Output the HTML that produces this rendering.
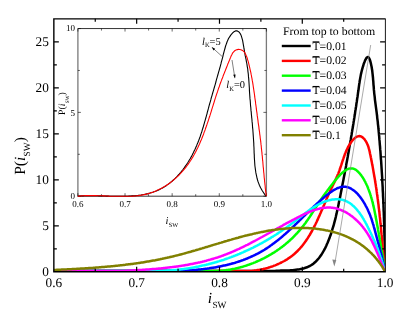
<!DOCTYPE html>
<html><head><meta charset="utf-8"><title>chart</title><style>html,body{margin:0;padding:0;background:#fff}svg{display:block;will-change:transform}text{font-family:"Liberation Serif",serif;text-rendering:geometricPrecision}</style></head><body>
<svg width="415" height="319" viewBox="0 0 415 319">
<rect width="415" height="319" fill="#fff"/>
<defs><clipPath id="cp"><rect x="53.85" y="18.85" width="331.25" height="252.95"/></clipPath></defs>
<g fill="none" stroke-width="2.5" stroke-linejoin="round" stroke-linecap="butt" clip-path="url(#cp)">
<path d="M51.9,271.1 L272.0,271.1 L273.4,271.0 L274.8,270.9 L276.3,270.8 L277.8,270.7 L279.4,270.7 L281.0,270.6 L282.6,270.6 L284.2,270.5 L285.9,270.5 L287.6,270.4 L289.2,270.4 L290.9,270.3 L292.6,270.2 L294.3,270.0 L296.0,269.8 L297.6,269.6 L299.3,269.4 L300.9,269.0 L302.5,268.7 L304.0,268.3 L305.5,267.8 L307.0,267.3 L308.4,266.6 L309.8,266.0 L311.1,265.2 L312.4,264.4 L313.6,263.5 L314.7,262.5 L315.9,261.5 L316.9,260.4 L318.0,259.2 L319.0,258.0 L319.9,256.8 L320.8,255.5 L321.7,254.2 L322.5,252.9 L323.3,251.5 L324.1,250.1 L324.9,248.7 L325.6,247.2 L326.3,245.7 L326.9,244.3 L327.6,242.8 L328.2,241.3 L328.8,239.8 L329.4,238.3 L329.9,236.8 L330.5,235.3 L331.0,233.8 L331.5,232.3 L332.0,230.8 L332.4,229.2 L332.9,227.7 L333.4,226.2 L333.8,224.7 L334.2,223.1 L334.6,221.6 L335.0,220.1 L335.4,218.6 L335.8,217.0 L336.1,215.5 L336.5,213.9 L336.8,212.4 L337.2,210.9 L337.5,209.3 L337.8,207.8 L338.2,206.2 L338.5,204.7 L338.8,203.1 L339.1,201.6 L339.4,200.0 L339.8,198.5 L340.1,196.9 L340.4,195.4 L340.7,193.8 L341.0,192.3 L341.3,190.7 L341.6,189.2 L341.9,187.6 L342.2,186.1 L342.5,184.5 L342.8,183.0 L343.1,181.4 L343.4,179.9 L343.7,178.3 L344.0,176.8 L344.3,175.2 L344.6,173.7 L344.9,172.1 L345.2,170.6 L345.5,169.0 L345.8,167.4 L346.1,165.9 L346.3,164.3 L346.6,162.8 L346.9,161.2 L347.2,159.7 L347.5,158.1 L347.8,156.5 L348.0,155.0 L348.3,153.4 L348.6,151.9 L348.9,150.3 L349.1,148.7 L349.4,147.2 L349.7,145.6 L350.0,144.0 L350.2,142.5 L350.5,140.9 L350.8,139.4 L351.0,137.8 L351.3,136.2 L351.6,134.7 L351.8,133.1 L352.1,131.5 L352.3,130.0 L352.6,128.4 L352.9,126.8 L353.1,125.3 L353.4,123.7 L353.6,122.1 L353.9,120.5 L354.1,119.0 L354.4,117.4 L354.6,115.8 L354.9,114.3 L355.1,112.7 L355.3,111.1 L355.6,109.5 L355.8,108.0 L356.1,106.4 L356.3,104.8 L356.5,103.2 L356.8,101.7 L357.0,100.1 L357.2,98.5 L357.5,96.9 L357.7,95.3 L357.9,93.8 L358.1,92.2 L358.4,90.6 L358.6,89.0 L358.8,87.4 L359.0,85.8 L359.2,84.3 L359.5,82.7 L359.7,81.0 L360.0,79.4 L360.3,77.8 L360.6,76.1 L360.9,74.4 L361.3,72.7 L361.7,71.0 L362.2,69.2 L362.7,67.4 L363.3,65.5 L363.8,63.7 L364.5,62.0 L365.1,60.4 L365.8,59.1 L366.4,58.0 L367.1,57.3 L367.7,57.0 L368.3,57.2 L368.9,57.7 L369.4,58.7 L369.9,60.0 L370.4,61.5 L370.8,63.1 L371.2,64.9 L371.6,66.8 L371.9,68.7 L372.2,70.5 L372.4,72.4 L372.6,74.2 L372.8,76.0 L373.0,77.8 L373.1,79.6 L373.3,81.4 L373.4,83.1 L373.5,84.8 L373.7,86.5 L373.8,88.2 L373.9,89.9 L374.1,91.5 L374.2,93.1 L374.4,94.7 L374.6,96.2 L374.8,97.8 L374.9,99.3 L375.1,100.8 L375.3,102.4 L375.5,103.9 L375.7,105.4 L375.9,106.9 L376.1,108.4 L376.3,109.9 L376.5,111.4 L376.7,112.9 L376.9,114.5 L377.1,116.0 L377.2,117.6 L377.4,119.1 L377.6,120.7 L377.8,122.2 L377.9,123.8 L378.1,125.4 L378.3,127.0 L378.4,128.5 L378.6,130.1 L378.7,131.7 L378.9,133.3 L379.0,134.9 L379.2,136.5 L379.3,138.1 L379.4,139.7 L379.6,141.3 L379.7,142.9 L379.8,144.5 L380.0,146.1 L380.1,147.7 L380.2,149.4 L380.4,151.0 L380.5,152.6 L380.6,154.2 L380.7,155.8 L380.8,157.4 L380.9,159.0 L381.1,160.6 L381.2,162.2 L381.3,163.8 L381.4,165.4 L381.5,167.0 L381.6,168.6 L381.7,170.2 L381.8,171.8 L381.9,173.4 L382.0,175.0 L382.1,176.5 L382.2,178.1 L382.2,179.7 L382.3,181.3 L382.4,182.9 L382.5,184.5 L382.6,186.1 L382.7,187.6 L382.7,189.2 L382.8,190.8 L382.9,192.4 L383.0,194.0 L383.0,195.5 L383.1,197.1 L383.2,198.7 L383.3,200.3 L383.3,201.9 L383.4,203.4 L383.5,205.0 L383.5,206.6 L383.6,208.2 L383.6,209.8 L383.7,211.3 L383.8,212.9 L383.8,214.5 L383.9,216.1 L383.9,217.6 L384.0,219.2 L384.0,220.8 L384.1,222.4 L384.1,224.0 L384.2,225.5 L384.2,227.1 L384.3,228.7 L384.3,230.3 L384.3,231.9 L384.4,233.4 L384.4,235.0 L384.5,236.6 L384.5,238.2 L384.5,239.8 L384.6,241.4 L384.6,243.0 L384.7,244.5 L384.7,246.1 L384.7,247.7 L384.7,249.3 L384.8,250.9 L384.8,252.5 L384.8,254.1 L384.9,255.7 L384.9,257.3 L384.9,258.9 L384.9,260.5 L385.0,262.1 L385.0,263.7 L385.0,265.3 L385.0,266.9 L385.1,268.5 L385.1,270.1 L385.1,271.7" stroke="#000"/>
<path d="M51.9,271.1 L235.0,271.1 L236.1,271.1 L237.2,271.1 L238.4,271.1 L239.5,271.1 L240.6,271.1 L241.7,271.1 L242.9,271.1 L244.0,271.1 L245.1,271.1 L246.3,271.1 L247.4,271.1 L248.5,271.1 L249.7,271.1 L250.8,271.0 L252.0,270.9 L253.1,270.7 L254.2,270.6 L255.4,270.4 L256.5,270.3 L257.6,270.1 L258.8,269.9 L259.9,269.7 L261.0,269.5 L262.1,269.2 L263.2,269.0 L264.4,268.7 L265.5,268.5 L266.6,268.2 L267.7,267.9 L268.8,267.5 L269.8,267.2 L270.9,266.8 L272.0,266.5 L273.1,266.1 L274.1,265.7 L275.2,265.3 L276.2,264.9 L277.3,264.4 L278.3,264.0 L279.3,263.5 L280.3,263.0 L281.4,262.5 L282.3,262.0 L283.3,261.5 L284.3,261.0 L285.3,260.4 L286.2,259.8 L287.2,259.3 L288.1,258.6 L289.0,258.0 L289.9,257.4 L290.8,256.7 L291.7,256.1 L292.6,255.4 L293.4,254.7 L294.3,254.0 L295.1,253.3 L295.9,252.5 L296.7,251.8 L297.5,251.0 L298.3,250.2 L299.0,249.4 L299.8,248.6 L300.5,247.8 L301.3,246.9 L302.0,246.1 L302.7,245.2 L303.4,244.3 L304.0,243.4 L304.7,242.5 L305.4,241.6 L306.0,240.7 L306.6,239.8 L307.3,238.8 L307.9,237.9 L308.5,236.9 L309.1,235.9 L309.7,235.0 L310.3,234.0 L310.8,233.0 L311.4,232.0 L312.0,231.0 L312.5,230.0 L313.0,228.9 L313.6,227.9 L314.1,226.9 L314.6,225.9 L315.2,224.8 L315.7,223.8 L316.2,222.7 L316.7,221.7 L317.2,220.6 L317.7,219.6 L318.1,218.5 L318.6,217.4 L319.1,216.4 L319.6,215.3 L320.0,214.2 L320.5,213.2 L321.0,212.1 L321.4,211.0 L321.9,210.0 L322.4,208.9 L322.8,207.8 L323.3,206.8 L323.7,205.7 L324.2,204.7 L324.6,203.6 L325.1,202.5 L325.5,201.5 L326.0,200.4 L326.4,199.4 L326.9,198.4 L327.3,197.3 L327.8,196.3 L328.2,195.3 L328.7,194.3 L329.1,193.3 L329.6,192.2 L330.0,191.2 L330.5,190.3 L331.0,189.3 L331.4,188.3 L331.9,187.3 L332.4,186.4 L332.8,185.4 L333.3,184.4 L333.8,183.5 L334.3,182.5 L334.7,181.5 L335.2,180.6 L335.6,179.6 L336.1,178.6 L336.5,177.6 L337.0,176.6 L337.4,175.6 L337.9,174.6 L338.3,173.6 L338.7,172.5 L339.1,171.4 L339.5,170.4 L339.9,169.3 L340.2,168.1 L340.6,167.0 L341.0,165.9 L341.4,164.7 L341.7,163.6 L342.1,162.4 L342.5,161.2 L342.9,160.0 L343.3,158.9 L343.7,157.7 L344.1,156.5 L344.5,155.3 L344.9,154.1 L345.4,153.0 L345.9,151.8 L346.4,150.6 L346.9,149.5 L347.5,148.4 L348.0,147.2 L348.6,146.1 L349.3,145.0 L349.9,144.0 L350.6,142.9 L351.4,141.9 L352.1,140.9 L352.9,140.0 L353.7,139.1 L354.5,138.4 L355.3,137.7 L356.1,137.1 L357.0,136.7 L357.8,136.4 L358.6,136.2 L359.4,136.1 L360.3,136.2 L361.1,136.5 L361.8,136.9 L362.6,137.4 L363.3,138.1 L364.1,138.8 L364.7,139.6 L365.4,140.6 L366.0,141.5 L366.6,142.6 L367.1,143.7 L367.6,144.8 L368.1,146.0 L368.5,147.2 L368.8,148.4 L369.2,149.7 L369.5,150.9 L369.8,152.2 L370.0,153.5 L370.3,154.7 L370.6,156.0 L370.8,157.2 L371.1,158.5 L371.3,159.7 L371.5,160.9 L371.8,162.1 L372.0,163.4 L372.2,164.6 L372.5,165.7 L372.7,166.9 L372.9,168.1 L373.1,169.3 L373.3,170.4 L373.5,171.6 L373.7,172.8 L373.9,173.9 L374.1,175.0 L374.3,176.2 L374.5,177.3 L374.7,178.4 L374.9,179.6 L375.1,180.7 L375.2,181.8 L375.4,182.9 L375.6,184.0 L375.8,185.1 L375.9,186.2 L376.1,187.3 L376.3,188.4 L376.4,189.5 L376.6,190.6 L376.7,191.7 L376.9,192.8 L377.0,193.9 L377.2,194.9 L377.3,196.0 L377.5,197.1 L377.6,198.2 L377.8,199.3 L377.9,200.4 L378.0,201.5 L378.2,202.6 L378.3,203.6 L378.5,204.7 L378.6,205.8 L378.7,206.9 L378.8,208.0 L379.0,209.1 L379.1,210.2 L379.2,211.3 L379.4,212.4 L379.5,213.6 L379.6,214.7 L379.7,215.8 L379.8,216.9 L380.0,218.1 L380.1,219.2 L380.2,220.3 L380.3,221.5 L380.4,222.6 L380.5,223.8 L380.7,224.9 L380.8,226.1 L380.9,227.2 L381.0,228.4 L381.1,229.5 L381.2,230.7 L381.3,231.9 L381.4,233.0 L381.5,234.2 L381.7,235.4 L381.8,236.5 L381.9,237.7 L382.0,238.9 L382.1,240.0 L382.2,241.2 L382.3,242.4 L382.4,243.5 L382.5,244.7 L382.6,245.9 L382.7,247.0 L382.8,248.2 L382.9,249.3 L383.1,250.5 L383.2,251.6 L383.3,252.8 L383.4,253.9 L383.5,255.1 L383.6,256.2 L383.7,257.4 L383.8,258.5 L383.9,259.6 L384.0,260.7 L384.1,261.9 L384.2,263.0 L384.3,264.1 L384.4,265.2 L384.6,266.3 L384.7,267.4 L384.8,268.5 L384.9,269.6 L385.0,270.6 L385.1,271.7" stroke="#f00"/>
<path d="M51.9,271.1 L200.0,271.1 L201.0,271.1 L202.1,271.1 L203.1,271.1 L204.1,271.1 L205.2,271.1 L206.2,271.1 L207.3,271.1 L208.3,271.1 L209.3,271.1 L210.4,271.1 L211.4,271.1 L212.4,271.1 L213.5,271.1 L214.5,271.1 L215.5,271.1 L216.5,271.1 L217.6,271.1 L218.6,271.1 L219.6,271.0 L220.6,270.9 L221.7,270.8 L222.7,270.7 L223.7,270.6 L224.7,270.4 L225.7,270.3 L226.7,270.1 L227.8,270.0 L228.8,269.8 L229.8,269.7 L230.8,269.5 L231.8,269.3 L232.8,269.1 L233.8,268.9 L234.8,268.7 L235.8,268.4 L236.8,268.2 L237.7,268.0 L238.7,267.7 L239.7,267.5 L240.7,267.2 L241.7,266.9 L242.7,266.7 L243.6,266.4 L244.6,266.1 L245.6,265.8 L246.5,265.5 L247.5,265.1 L248.4,264.8 L249.4,264.5 L250.4,264.1 L251.3,263.8 L252.2,263.4 L253.2,263.1 L254.1,262.7 L255.1,262.3 L256.0,261.9 L256.9,261.5 L257.8,261.1 L258.8,260.7 L259.7,260.3 L260.6,259.9 L261.5,259.4 L262.4,259.0 L263.3,258.5 L264.2,258.1 L265.1,257.6 L266.0,257.2 L266.9,256.7 L267.8,256.2 L268.6,255.7 L269.5,255.2 L270.4,254.7 L271.2,254.2 L272.1,253.7 L272.9,253.1 L273.8,252.6 L274.6,252.1 L275.5,251.5 L276.3,251.0 L277.1,250.4 L278.0,249.8 L278.8,249.2 L279.6,248.7 L280.4,248.1 L281.2,247.5 L282.0,246.9 L282.8,246.3 L283.6,245.7 L284.4,245.0 L285.2,244.4 L285.9,243.8 L286.7,243.1 L287.5,242.5 L288.2,241.8 L289.0,241.2 L289.7,240.5 L290.4,239.8 L291.2,239.1 L291.9,238.5 L292.6,237.8 L293.3,237.1 L294.0,236.4 L294.7,235.6 L295.4,234.9 L296.1,234.2 L296.8,233.5 L297.5,232.7 L298.2,232.0 L298.8,231.2 L299.5,230.5 L300.1,229.7 L300.8,229.0 L301.4,228.2 L302.0,227.4 L302.7,226.6 L303.3,225.9 L303.9,225.1 L304.5,224.3 L305.1,223.5 L305.7,222.7 L306.3,221.8 L306.8,221.0 L307.4,220.2 L308.0,219.4 L308.6,218.5 L309.1,217.7 L309.7,216.9 L310.3,216.0 L310.8,215.2 L311.4,214.3 L311.9,213.5 L312.5,212.6 L313.0,211.8 L313.6,210.9 L314.1,210.1 L314.7,209.2 L315.3,208.3 L315.8,207.5 L316.4,206.6 L316.9,205.7 L317.5,204.9 L318.1,204.0 L318.6,203.1 L319.2,202.3 L319.8,201.4 L320.4,200.5 L320.9,199.7 L321.5,198.8 L322.1,197.9 L322.7,197.1 L323.3,196.2 L323.9,195.3 L324.5,194.5 L325.2,193.6 L325.8,192.7 L326.4,191.9 L327.1,191.0 L327.7,190.1 L328.4,189.2 L329.1,188.4 L329.7,187.5 L330.4,186.6 L331.1,185.7 L331.8,184.8 L332.5,183.9 L333.2,183.0 L333.9,182.1 L334.7,181.1 L335.4,180.2 L336.1,179.3 L336.9,178.4 L337.7,177.6 L338.4,176.7 L339.2,175.8 L340.0,175.0 L340.7,174.2 L341.5,173.5 L342.3,172.8 L343.1,172.1 L343.8,171.5 L344.6,170.9 L345.4,170.4 L346.2,169.9 L347.0,169.5 L347.8,169.1 L348.5,168.8 L349.3,168.6 L350.1,168.4 L350.8,168.4 L351.6,168.4 L352.4,168.5 L353.1,168.6 L353.9,168.9 L354.6,169.2 L355.4,169.6 L356.1,170.1 L356.8,170.6 L357.5,171.2 L358.2,171.9 L358.9,172.6 L359.6,173.3 L360.2,174.1 L360.9,174.9 L361.5,175.8 L362.2,176.7 L362.8,177.6 L363.4,178.6 L364.0,179.6 L364.5,180.6 L365.1,181.6 L365.6,182.7 L366.1,183.7 L366.6,184.8 L367.1,185.8 L367.6,186.9 L368.0,188.0 L368.4,189.1 L368.8,190.1 L369.2,191.2 L369.6,192.3 L370.0,193.4 L370.3,194.4 L370.7,195.5 L371.0,196.6 L371.3,197.6 L371.6,198.7 L371.9,199.7 L372.2,200.8 L372.5,201.8 L372.7,202.9 L373.0,203.9 L373.2,204.9 L373.4,205.9 L373.7,206.9 L373.9,207.9 L374.1,208.8 L374.3,209.8 L374.5,210.8 L374.7,211.8 L374.9,212.7 L375.1,213.7 L375.3,214.7 L375.5,215.6 L375.6,216.6 L375.8,217.6 L376.0,218.6 L376.2,219.5 L376.4,220.5 L376.6,221.5 L376.8,222.5 L376.9,223.5 L377.1,224.4 L377.3,225.4 L377.5,226.4 L377.7,227.4 L377.9,228.4 L378.0,229.4 L378.2,230.4 L378.4,231.4 L378.6,232.4 L378.8,233.4 L378.9,234.4 L379.1,235.4 L379.3,236.4 L379.5,237.4 L379.7,238.4 L379.8,239.4 L380.0,240.4 L380.2,241.4 L380.4,242.4 L380.5,243.4 L380.7,244.4 L380.9,245.4 L381.0,246.4 L381.2,247.4 L381.4,248.5 L381.6,249.5 L381.7,250.5 L381.9,251.5 L382.1,252.5 L382.2,253.5 L382.4,254.5 L382.6,255.5 L382.7,256.5 L382.9,257.6 L383.1,258.6 L383.2,259.6 L383.4,260.6 L383.5,261.6 L383.7,262.6 L383.9,263.6 L384.0,264.6 L384.2,265.6 L384.3,266.7 L384.5,267.7 L384.6,268.7 L384.8,269.7 L384.9,270.7 L385.1,271.7" stroke="#0f0"/>
<path d="M51.9,271.1 L175.0,271.1 L176.0,271.1 L177.0,271.0 L177.9,271.0 L178.9,270.9 L179.9,270.9 L180.9,270.9 L181.8,270.8 L182.8,270.8 L183.8,270.7 L184.8,270.7 L185.8,270.6 L186.7,270.5 L187.7,270.5 L188.7,270.4 L189.7,270.3 L190.7,270.3 L191.7,270.2 L192.6,270.1 L193.6,270.0 L194.6,270.0 L195.6,269.9 L196.6,269.8 L197.5,269.7 L198.5,269.6 L199.5,269.5 L200.5,269.4 L201.5,269.3 L202.5,269.2 L203.4,269.1 L204.4,268.9 L205.4,268.8 L206.4,268.7 L207.3,268.6 L208.3,268.4 L209.3,268.3 L210.3,268.1 L211.2,268.0 L212.2,267.8 L213.2,267.7 L214.2,267.5 L215.1,267.4 L216.1,267.2 L217.1,267.0 L218.0,266.8 L219.0,266.6 L220.0,266.5 L220.9,266.3 L221.9,266.1 L222.8,265.8 L223.8,265.6 L224.8,265.4 L225.7,265.2 L226.7,265.0 L227.6,264.7 L228.6,264.5 L229.5,264.3 L230.5,264.0 L231.4,263.8 L232.3,263.5 L233.3,263.2 L234.2,263.0 L235.2,262.7 L236.1,262.4 L237.0,262.1 L238.0,261.8 L238.9,261.5 L239.8,261.2 L240.7,260.9 L241.6,260.5 L242.6,260.2 L243.5,259.9 L244.4,259.5 L245.3,259.2 L246.2,258.8 L247.1,258.5 L248.0,258.1 L248.9,257.7 L249.8,257.3 L250.7,256.9 L251.6,256.5 L252.5,256.1 L253.4,255.7 L254.2,255.3 L255.1,254.9 L256.0,254.4 L256.9,254.0 L257.7,253.6 L258.6,253.1 L259.5,252.6 L260.3,252.2 L261.2,251.7 L262.0,251.2 L262.9,250.7 L263.7,250.2 L264.5,249.7 L265.4,249.1 L266.2,248.6 L267.0,248.1 L267.9,247.5 L268.7,247.0 L269.5,246.4 L270.3,245.8 L271.1,245.3 L271.9,244.7 L272.7,244.1 L273.5,243.5 L274.3,242.9 L275.1,242.3 L275.9,241.7 L276.7,241.1 L277.5,240.5 L278.2,239.9 L279.0,239.3 L279.8,238.6 L280.6,238.0 L281.3,237.4 L282.1,236.7 L282.8,236.1 L283.6,235.4 L284.3,234.8 L285.1,234.1 L285.8,233.5 L286.5,232.8 L287.3,232.2 L288.0,231.5 L288.7,230.9 L289.4,230.2 L290.1,229.5 L290.9,228.9 L291.6,228.2 L292.3,227.5 L293.0,226.9 L293.7,226.2 L294.4,225.6 L295.0,224.9 L295.7,224.2 L296.4,223.6 L297.1,222.9 L297.8,222.2 L298.5,221.6 L299.1,220.9 L299.8,220.2 L300.5,219.6 L301.2,218.9 L301.9,218.2 L302.5,217.5 L303.2,216.9 L303.9,216.2 L304.6,215.5 L305.3,214.9 L306.0,214.2 L306.6,213.5 L307.3,212.8 L308.0,212.2 L308.7,211.5 L309.4,210.8 L310.1,210.1 L310.8,209.4 L311.5,208.8 L312.2,208.1 L313.0,207.4 L313.7,206.7 L314.4,206.0 L315.1,205.4 L315.9,204.7 L316.6,204.0 L317.4,203.3 L318.1,202.6 L318.9,201.9 L319.6,201.2 L320.4,200.5 L321.2,199.9 L322.0,199.2 L322.8,198.5 L323.6,197.8 L324.4,197.1 L325.2,196.4 L326.0,195.7 L326.9,195.0 L327.7,194.4 L328.6,193.7 L329.4,193.1 L330.3,192.4 L331.1,191.8 L332.0,191.3 L332.8,190.7 L333.7,190.2 L334.6,189.7 L335.4,189.2 L336.3,188.8 L337.1,188.3 L338.0,188.0 L338.9,187.7 L339.7,187.4 L340.6,187.1 L341.4,187.0 L342.3,186.8 L343.1,186.7 L343.9,186.7 L344.8,186.7 L345.6,186.8 L346.4,186.9 L347.2,187.1 L348.0,187.3 L348.8,187.6 L349.6,187.9 L350.4,188.3 L351.2,188.7 L351.9,189.2 L352.7,189.7 L353.4,190.2 L354.2,190.8 L354.9,191.4 L355.6,192.0 L356.4,192.7 L357.1,193.4 L357.8,194.1 L358.4,194.9 L359.1,195.7 L359.8,196.5 L360.4,197.4 L361.1,198.2 L361.7,199.1 L362.3,200.0 L362.9,200.9 L363.5,201.9 L364.1,202.8 L364.7,203.8 L365.2,204.8 L365.7,205.8 L366.3,206.8 L366.8,207.8 L367.3,208.8 L367.8,209.8 L368.2,210.8 L368.7,211.9 L369.1,212.9 L369.6,213.9 L370.0,214.9 L370.4,215.9 L370.7,216.9 L371.1,217.9 L371.5,218.9 L371.8,219.9 L372.1,220.9 L372.4,221.9 L372.7,222.8 L373.0,223.8 L373.3,224.7 L373.6,225.7 L373.8,226.6 L374.1,227.6 L374.3,228.5 L374.6,229.4 L374.9,230.4 L375.1,231.3 L375.3,232.2 L375.6,233.1 L375.8,234.0 L376.1,234.9 L376.3,235.9 L376.6,236.8 L376.8,237.7 L377.1,238.6 L377.3,239.5 L377.5,240.4 L377.8,241.2 L378.0,242.1 L378.3,243.0 L378.5,243.9 L378.8,244.8 L379.0,245.7 L379.2,246.6 L379.5,247.5 L379.7,248.4 L379.9,249.3 L380.2,250.3 L380.4,251.2 L380.6,252.1 L380.9,253.0 L381.1,253.9 L381.3,254.9 L381.6,255.8 L381.8,256.7 L382.0,257.7 L382.2,258.6 L382.5,259.6 L382.7,260.6 L382.9,261.5 L383.1,262.5 L383.4,263.5 L383.6,264.5 L383.8,265.5 L384.0,266.5 L384.2,267.5 L384.5,268.5 L384.7,269.6 L384.9,270.6 L385.1,271.7" stroke="#00f"/>
<path d="M51.9,271.1 L150.0,271.1 L151.0,271.1 L152.0,271.1 L153.1,271.1 L154.1,271.1 L155.1,271.1 L156.1,271.1 L157.2,271.0 L158.2,271.0 L159.2,271.0 L160.2,271.0 L161.2,270.9 L162.2,270.9 L163.3,270.8 L164.3,270.8 L165.3,270.7 L166.3,270.7 L167.3,270.6 L168.3,270.6 L169.3,270.5 L170.3,270.4 L171.3,270.3 L172.3,270.3 L173.3,270.2 L174.3,270.1 L175.3,270.0 L176.3,269.9 L177.3,269.8 L178.2,269.7 L179.2,269.6 L180.2,269.5 L181.2,269.3 L182.2,269.2 L183.2,269.1 L184.1,268.9 L185.1,268.8 L186.1,268.7 L187.1,268.5 L188.1,268.4 L189.0,268.2 L190.0,268.1 L191.0,267.9 L191.9,267.7 L192.9,267.6 L193.9,267.4 L194.8,267.2 L195.8,267.0 L196.7,266.8 L197.7,266.7 L198.7,266.5 L199.6,266.3 L200.6,266.1 L201.5,265.8 L202.5,265.6 L203.4,265.4 L204.4,265.2 L205.3,265.0 L206.3,264.8 L207.2,264.5 L208.2,264.3 L209.1,264.0 L210.0,263.8 L211.0,263.6 L211.9,263.3 L212.9,263.0 L213.8,262.8 L214.7,262.5 L215.7,262.3 L216.6,262.0 L217.5,261.7 L218.4,261.4 L219.4,261.1 L220.3,260.8 L221.2,260.6 L222.1,260.3 L223.1,260.0 L224.0,259.7 L224.9,259.3 L225.8,259.0 L226.7,258.7 L227.6,258.4 L228.6,258.1 L229.5,257.7 L230.4,257.4 L231.3,257.1 L232.2,256.7 L233.1,256.4 L234.0,256.0 L234.9,255.7 L235.8,255.3 L236.7,255.0 L237.6,254.6 L238.5,254.2 L239.4,253.9 L240.3,253.5 L241.2,253.1 L242.1,252.7 L243.0,252.3 L243.8,251.9 L244.7,251.5 L245.6,251.1 L246.5,250.7 L247.4,250.3 L248.3,249.9 L249.2,249.5 L250.0,249.1 L250.9,248.7 L251.8,248.2 L252.7,247.8 L253.5,247.4 L254.4,246.9 L255.3,246.5 L256.1,246.0 L257.0,245.6 L257.9,245.1 L258.8,244.7 L259.6,244.2 L260.5,243.7 L261.3,243.3 L262.2,242.8 L263.1,242.3 L263.9,241.8 L264.8,241.4 L265.6,240.9 L266.5,240.4 L267.3,239.9 L268.2,239.4 L269.0,238.9 L269.9,238.4 L270.7,237.9 L271.6,237.3 L272.4,236.8 L273.3,236.3 L274.1,235.8 L275.0,235.2 L275.8,234.7 L276.6,234.2 L277.5,233.6 L278.3,233.1 L279.1,232.5 L280.0,232.0 L280.8,231.4 L281.6,230.9 L282.5,230.3 L283.3,229.7 L284.1,229.1 L284.9,228.6 L285.8,228.0 L286.6,227.4 L287.4,226.8 L288.2,226.2 L289.1,225.6 L289.9,225.0 L290.7,224.4 L291.5,223.8 L292.3,223.2 L293.1,222.6 L293.9,222.0 L294.8,221.4 L295.6,220.7 L296.4,220.1 L297.2,219.5 L298.0,218.8 L298.8,218.2 L299.6,217.6 L300.4,216.9 L301.2,216.3 L302.0,215.7 L302.8,215.1 L303.6,214.4 L304.5,213.8 L305.3,213.2 L306.1,212.6 L306.9,212.0 L307.7,211.4 L308.5,210.8 L309.3,210.2 L310.2,209.6 L311.0,209.0 L311.8,208.5 L312.7,207.9 L313.5,207.4 L314.3,206.8 L315.2,206.3 L316.0,205.8 L316.9,205.3 L317.7,204.8 L318.6,204.4 L319.5,203.9 L320.3,203.5 L321.2,203.1 L322.1,202.7 L323.0,202.3 L323.9,201.9 L324.8,201.6 L325.7,201.3 L326.6,201.0 L327.5,200.7 L328.5,200.4 L329.4,200.2 L330.4,200.0 L331.3,199.8 L332.3,199.6 L333.2,199.5 L334.2,199.4 L335.2,199.3 L336.2,199.3 L337.2,199.2 L338.1,199.3 L339.1,199.3 L340.1,199.4 L341.0,199.5 L341.9,199.7 L342.8,199.9 L343.7,200.2 L344.6,200.5 L345.5,200.8 L346.3,201.2 L347.2,201.6 L348.0,202.1 L348.8,202.5 L349.6,203.0 L350.4,203.6 L351.1,204.1 L351.9,204.7 L352.6,205.4 L353.4,206.0 L354.1,206.7 L354.8,207.4 L355.5,208.1 L356.2,208.8 L356.8,209.6 L357.5,210.4 L358.1,211.2 L358.8,212.0 L359.4,212.8 L360.0,213.7 L360.6,214.5 L361.2,215.4 L361.8,216.3 L362.4,217.2 L362.9,218.1 L363.5,219.0 L364.0,220.0 L364.5,220.9 L365.1,221.8 L365.6,222.8 L366.1,223.7 L366.6,224.6 L367.1,225.6 L367.6,226.5 L368.0,227.5 L368.5,228.4 L369.0,229.4 L369.4,230.3 L369.9,231.2 L370.3,232.1 L370.8,233.0 L371.2,233.9 L371.6,234.8 L372.0,235.7 L372.4,236.6 L372.8,237.5 L373.2,238.4 L373.6,239.3 L374.0,240.1 L374.4,241.0 L374.8,241.9 L375.1,242.8 L375.5,243.6 L375.9,244.5 L376.2,245.4 L376.6,246.2 L376.9,247.1 L377.3,248.0 L377.6,248.8 L378.0,249.7 L378.3,250.6 L378.6,251.5 L378.9,252.4 L379.3,253.3 L379.6,254.1 L379.9,255.1 L380.2,256.0 L380.5,256.9 L380.9,257.8 L381.2,258.7 L381.5,259.7 L381.8,260.6 L382.1,261.6 L382.4,262.5 L382.7,263.5 L383.0,264.5 L383.3,265.5 L383.6,266.5 L383.9,267.5 L384.2,268.5 L384.5,269.6 L384.8,270.6 L385.1,271.7" stroke="#0ff"/>
<path d="M51.9,271.1 L120.0,271.1 L121.0,271.1 L122.1,271.0 L123.1,271.0 L124.1,270.9 L125.1,270.9 L126.2,270.8 L127.2,270.7 L128.2,270.7 L129.3,270.6 L130.3,270.6 L131.3,270.5 L132.4,270.5 L133.4,270.4 L134.5,270.3 L135.5,270.3 L136.5,270.2 L137.6,270.2 L138.6,270.1 L139.7,270.0 L140.7,270.0 L141.8,269.9 L142.8,269.8 L143.9,269.8 L144.9,269.7 L146.0,269.6 L147.0,269.5 L148.1,269.5 L149.1,269.4 L150.2,269.3 L151.2,269.2 L152.3,269.1 L153.3,269.0 L154.4,268.9 L155.4,268.9 L156.5,268.8 L157.5,268.7 L158.6,268.6 L159.7,268.5 L160.7,268.4 L161.8,268.3 L162.8,268.2 L163.9,268.0 L164.9,267.9 L166.0,267.8 L167.0,267.7 L168.1,267.6 L169.1,267.5 L170.2,267.3 L171.2,267.2 L172.3,267.1 L173.3,266.9 L174.4,266.8 L175.4,266.7 L176.5,266.5 L177.5,266.4 L178.6,266.2 L179.6,266.1 L180.7,265.9 L181.7,265.7 L182.8,265.6 L183.8,265.4 L184.8,265.2 L185.9,265.0 L186.9,264.9 L188.0,264.7 L189.0,264.5 L190.0,264.3 L191.1,264.1 L192.1,263.9 L193.1,263.7 L194.1,263.5 L195.2,263.3 L196.2,263.1 L197.2,262.9 L198.2,262.6 L199.3,262.4 L200.3,262.2 L201.3,261.9 L202.3,261.7 L203.3,261.4 L204.3,261.2 L205.3,260.9 L206.3,260.7 L207.3,260.4 L208.3,260.1 L209.3,259.9 L210.3,259.6 L211.3,259.3 L212.3,259.0 L213.3,258.7 L214.3,258.4 L215.3,258.1 L216.3,257.8 L217.3,257.5 L218.2,257.2 L219.2,256.8 L220.2,256.5 L221.1,256.2 L222.1,255.8 L223.1,255.5 L224.0,255.1 L225.0,254.7 L225.9,254.4 L226.9,254.0 L227.8,253.6 L228.8,253.3 L229.7,252.9 L230.7,252.5 L231.6,252.1 L232.6,251.7 L233.5,251.3 L234.4,250.9 L235.4,250.5 L236.3,250.0 L237.2,249.6 L238.2,249.2 L239.1,248.8 L240.0,248.3 L240.9,247.9 L241.9,247.5 L242.8,247.0 L243.7,246.6 L244.6,246.1 L245.5,245.7 L246.5,245.2 L247.4,244.8 L248.3,244.3 L249.2,243.8 L250.1,243.4 L251.0,242.9 L251.9,242.4 L252.8,241.9 L253.8,241.4 L254.7,241.0 L255.6,240.5 L256.5,240.0 L257.4,239.5 L258.3,239.0 L259.2,238.5 L260.1,238.0 L261.0,237.5 L262.0,237.0 L262.9,236.5 L263.8,236.0 L264.7,235.5 L265.6,235.0 L266.5,234.5 L267.4,234.0 L268.3,233.5 L269.3,233.0 L270.2,232.5 L271.1,232.0 L272.0,231.4 L272.9,230.9 L273.8,230.4 L274.8,229.9 L275.7,229.4 L276.6,228.9 L277.5,228.3 L278.4,227.8 L279.4,227.3 L280.3,226.8 L281.2,226.3 L282.2,225.8 L283.1,225.2 L284.0,224.7 L285.0,224.2 L285.9,223.7 L286.8,223.2 L287.8,222.7 L288.7,222.1 L289.7,221.6 L290.6,221.1 L291.6,220.6 L292.5,220.1 L293.5,219.6 L294.5,219.1 L295.4,218.6 L296.4,218.1 L297.3,217.6 L298.3,217.1 L299.3,216.6 L300.3,216.1 L301.2,215.6 L302.2,215.1 L303.2,214.7 L304.2,214.2 L305.2,213.7 L306.1,213.3 L307.1,212.9 L308.1,212.4 L309.1,212.0 L310.1,211.6 L311.1,211.2 L312.1,210.9 L313.0,210.5 L314.0,210.2 L315.0,209.9 L316.0,209.6 L317.0,209.3 L318.0,209.0 L319.0,208.8 L319.9,208.5 L320.9,208.3 L321.9,208.1 L322.9,208.0 L323.9,207.8 L324.8,207.7 L325.8,207.7 L326.8,207.6 L327.8,207.6 L328.7,207.6 L329.7,207.6 L330.7,207.6 L331.6,207.7 L332.6,207.8 L333.6,208.0 L334.5,208.1 L335.5,208.3 L336.4,208.6 L337.4,208.8 L338.3,209.1 L339.2,209.4 L340.2,209.7 L341.1,210.1 L342.0,210.5 L342.9,210.9 L343.8,211.3 L344.7,211.7 L345.6,212.2 L346.5,212.7 L347.4,213.2 L348.3,213.8 L349.1,214.3 L350.0,214.9 L350.8,215.5 L351.7,216.1 L352.5,216.7 L353.3,217.4 L354.1,218.1 L354.9,218.8 L355.7,219.5 L356.5,220.2 L357.3,220.9 L358.0,221.7 L358.8,222.4 L359.5,223.2 L360.3,224.0 L361.0,224.8 L361.7,225.6 L362.4,226.5 L363.1,227.3 L363.7,228.2 L364.4,229.0 L365.0,229.9 L365.7,230.8 L366.3,231.7 L366.9,232.6 L367.5,233.5 L368.0,234.4 L368.6,235.3 L369.2,236.3 L369.7,237.2 L370.2,238.1 L370.7,239.1 L371.3,240.0 L371.8,241.0 L372.3,242.0 L372.7,242.9 L373.2,243.9 L373.7,244.9 L374.1,245.8 L374.6,246.8 L375.0,247.8 L375.5,248.8 L375.9,249.7 L376.3,250.7 L376.8,251.7 L377.2,252.7 L377.6,253.6 L378.0,254.6 L378.4,255.6 L378.8,256.6 L379.2,257.5 L379.6,258.5 L380.0,259.5 L380.4,260.4 L380.8,261.4 L381.1,262.4 L381.5,263.3 L381.9,264.3 L382.3,265.2 L382.7,266.2 L383.1,267.1 L383.5,268.0 L383.9,269.0 L384.3,269.9 L384.7,270.8 L385.1,271.7" stroke="#f0f"/>
<path d="M53.4,270.0 L54.6,269.9 L55.8,269.9 L57.0,269.8 L58.1,269.8 L59.3,269.7 L60.5,269.7 L61.7,269.6 L62.9,269.6 L64.1,269.5 L65.3,269.4 L66.4,269.4 L67.6,269.3 L68.8,269.3 L70.0,269.2 L71.2,269.2 L72.4,269.1 L73.5,269.0 L74.7,269.0 L75.9,268.9 L77.1,268.8 L78.3,268.8 L79.5,268.7 L80.6,268.6 L81.8,268.6 L83.0,268.5 L84.2,268.4 L85.4,268.3 L86.5,268.3 L87.7,268.2 L88.9,268.1 L90.1,268.0 L91.3,267.9 L92.4,267.9 L93.6,267.8 L94.8,267.7 L96.0,267.6 L97.2,267.5 L98.3,267.4 L99.5,267.3 L100.7,267.2 L101.9,267.1 L103.0,267.0 L104.2,266.9 L105.4,266.8 L106.6,266.7 L107.7,266.6 L108.9,266.5 L110.1,266.4 L111.2,266.3 L112.4,266.2 L113.6,266.1 L114.8,265.9 L115.9,265.8 L117.1,265.7 L118.3,265.6 L119.4,265.4 L120.6,265.3 L121.8,265.2 L122.9,265.1 L124.1,264.9 L125.3,264.8 L126.4,264.6 L127.6,264.5 L128.8,264.3 L129.9,264.2 L131.1,264.0 L132.3,263.9 L133.4,263.7 L134.6,263.6 L135.7,263.4 L136.9,263.2 L138.1,263.1 L139.2,262.9 L140.4,262.7 L141.5,262.5 L142.7,262.4 L143.9,262.2 L145.0,262.0 L146.2,261.8 L147.3,261.6 L148.5,261.4 L149.6,261.2 L150.8,261.0 L151.9,260.8 L153.1,260.6 L154.2,260.4 L155.4,260.2 L156.5,259.9 L157.7,259.7 L158.8,259.5 L160.0,259.3 L161.1,259.0 L162.3,258.8 L163.4,258.5 L164.6,258.3 L165.7,258.0 L166.9,257.8 L168.0,257.5 L169.2,257.3 L170.3,257.0 L171.4,256.7 L172.6,256.5 L173.7,256.2 L174.9,255.9 L176.0,255.6 L177.1,255.4 L178.3,255.1 L179.4,254.8 L180.5,254.5 L181.7,254.2 L182.8,253.9 L183.9,253.6 L185.1,253.3 L186.2,252.9 L187.3,252.6 L188.5,252.3 L189.6,252.0 L190.7,251.7 L191.9,251.3 L193.0,251.0 L194.1,250.7 L195.3,250.4 L196.4,250.0 L197.5,249.7 L198.7,249.4 L199.8,249.0 L200.9,248.7 L202.0,248.4 L203.2,248.0 L204.3,247.7 L205.4,247.3 L206.6,247.0 L207.7,246.7 L208.8,246.3 L209.9,246.0 L211.1,245.6 L212.2,245.3 L213.3,244.9 L214.4,244.6 L215.6,244.3 L216.7,243.9 L217.8,243.6 L219.0,243.2 L220.1,242.9 L221.2,242.6 L222.4,242.2 L223.5,241.9 L224.6,241.5 L225.7,241.2 L226.9,240.9 L228.0,240.5 L229.1,240.2 L230.3,239.9 L231.4,239.6 L232.5,239.2 L233.7,238.9 L234.8,238.6 L235.9,238.3 L237.1,238.0 L238.2,237.7 L239.4,237.3 L240.5,237.0 L241.6,236.7 L242.8,236.4 L243.9,236.1 L245.0,235.8 L246.2,235.6 L247.3,235.3 L248.5,235.0 L249.6,234.7 L250.8,234.4 L251.9,234.2 L253.1,233.9 L254.2,233.6 L255.4,233.4 L256.5,233.1 L257.7,232.9 L258.8,232.6 L260.0,232.4 L261.1,232.1 L262.3,231.9 L263.4,231.7 L264.6,231.5 L265.7,231.3 L266.9,231.0 L268.1,230.8 L269.2,230.6 L270.4,230.5 L271.6,230.3 L272.7,230.1 L273.9,229.9 L275.1,229.8 L276.2,229.6 L277.4,229.4 L278.6,229.3 L279.7,229.1 L280.9,229.0 L282.1,228.9 L283.3,228.8 L284.5,228.7 L285.6,228.6 L286.8,228.5 L288.0,228.4 L289.2,228.3 L290.4,228.2 L291.6,228.1 L292.7,228.1 L293.9,228.0 L295.1,228.0 L296.3,228.0 L297.5,227.9 L298.7,227.9 L299.9,227.9 L301.0,227.9 L302.2,227.9 L303.4,227.9 L304.6,228.0 L305.8,228.0 L306.9,228.1 L308.1,228.1 L309.3,228.2 L310.5,228.2 L311.6,228.3 L312.8,228.4 L314.0,228.5 L315.1,228.6 L316.3,228.8 L317.4,228.9 L318.6,229.1 L319.8,229.2 L320.9,229.4 L322.1,229.6 L323.2,229.7 L324.3,229.9 L325.5,230.2 L326.6,230.4 L327.7,230.6 L328.9,230.9 L330.0,231.1 L331.1,231.4 L332.2,231.7 L333.3,231.9 L334.4,232.3 L335.5,232.6 L336.6,232.9 L337.7,233.2 L338.8,233.6 L339.9,233.9 L341.0,234.3 L342.0,234.7 L343.1,235.1 L344.2,235.5 L345.2,236.0 L346.3,236.4 L347.3,236.9 L348.4,237.3 L349.4,237.8 L350.4,238.3 L351.4,238.8 L352.4,239.3 L353.4,239.9 L354.4,240.4 L355.4,241.0 L356.4,241.6 L357.4,242.2 L358.3,242.8 L359.3,243.4 L360.2,244.0 L361.2,244.7 L362.1,245.4 L363.0,246.0 L364.0,246.7 L364.9,247.5 L365.8,248.2 L366.7,248.9 L367.5,249.7 L368.4,250.5 L369.3,251.3 L370.1,252.1 L371.0,252.9 L371.8,253.7 L372.6,254.6 L373.5,255.4 L374.3,256.3 L375.1,257.2 L375.9,258.2 L376.6,259.1 L377.4,260.1 L378.2,261.0 L378.9,262.0 L379.6,263.0 L380.4,264.0 L381.1,265.1 L381.8,266.1 L382.5,267.2 L383.1,268.3 L383.8,269.4 L384.5,270.6 L385.1,271.7" stroke="#808000"/>
</g>
<g stroke="#858585" fill="#858585"><line x1="370.7" y1="45" x2="335.4" y2="260" stroke-width="0.7"/><path d="M334.3,266.4 L332.3,259.4 L336.3,260 Z" stroke="none"/></g>
<g fill="none" stroke="#000" stroke-width="1.4"><path d="M53.85,272.5V18.85H385.6M53.15,271.8H385.90000000000003"/><path d="M385.40000000000003,18.85V271.8" stroke-width="1" stroke="#1a1a1a"/><path d="M95.26,271.8v-3M95.26,18.85v3M136.66,271.8v-5M136.66,18.85v5M178.07,271.8v-3M178.07,18.85v3M219.48,271.8v-5M219.48,18.85v5M260.88,271.8v-3M260.88,18.85v3M302.29,271.8v-5M302.29,18.85v5M343.69,271.8v-3M343.69,18.85v3M53.85,248.81h3M385.1,248.81h-3M53.85,225.82h5M385.1,225.82h-5M53.85,202.83h3M385.1,202.83h-3M53.85,179.84h5M385.1,179.84h-5M53.85,156.85h3M385.1,156.85h-3M53.85,133.86h5M385.1,133.86h-5M53.85,110.87h3M385.1,110.87h-3M53.85,87.88h5M385.1,87.88h-5M53.85,64.89h3M385.1,64.89h-3M53.85,41.90h5M385.1,41.90h-5" stroke-width="1.2"/></g>
<g font-size="13.3px" fill="#000">
<text x="53.9" y="287.2" text-anchor="middle">0.6</text>
<text x="136.7" y="287.2" text-anchor="middle">0.7</text>
<text x="219.5" y="287.2" text-anchor="middle">0.8</text>
<text x="302.3" y="287.2" text-anchor="middle">0.9</text>
<text x="385.1" y="287.2" text-anchor="middle">1.0</text>
<text x="48.8" y="275.9" text-anchor="end">0</text>
<text x="48.8" y="230.0" text-anchor="end">5</text>
<text x="48.8" y="184.0" text-anchor="end">10</text>
<text x="48.8" y="138.0" text-anchor="end">15</text>
<text x="48.8" y="92.0" text-anchor="end">20</text>
<text x="48.8" y="46.1" text-anchor="end">25</text>
</g>
<g fill="#000">
<text x="207.8" y="303.1" font-size="15.5px"><tspan font-style="italic">i</tspan><tspan font-size="9.4px" dy="5.3" dx="0.3">SW</tspan></text>
<text transform="translate(24.8,174.8) rotate(-90)" font-size="15.5px">P(<tspan font-style="italic">i</tspan><tspan font-size="9.4px" dy="5.3" dx="0.3">SW</tspan><tspan dy="-5.3">)</tspan></text>
</g>
<g font-size="11.5px" fill="#000">
<text x="283" y="35" textLength="92.2" lengthAdjust="spacingAndGlyphs">From top to bottom</text>
<line x1="281.8" y1="46.0" x2="310.7" y2="46.0" stroke="#000" stroke-width="2.4"/>
<text x="312.4" y="49.5" textLength="34.2" lengthAdjust="spacingAndGlyphs">T=0.01</text>
<line x1="312.6" y1="42.0" x2="319.3" y2="42.0" stroke="#000" stroke-width="1.3"/>
<line x1="281.8" y1="60.9" x2="310.7" y2="60.9" stroke="#f00" stroke-width="2.4"/>
<text x="312.4" y="64.4" textLength="34.2" lengthAdjust="spacingAndGlyphs">T=0.02</text>
<line x1="312.6" y1="56.9" x2="319.3" y2="56.9" stroke="#000" stroke-width="1.3"/>
<line x1="281.8" y1="75.7" x2="310.7" y2="75.7" stroke="#0f0" stroke-width="2.4"/>
<text x="312.4" y="79.2" textLength="34.2" lengthAdjust="spacingAndGlyphs">T=0.03</text>
<line x1="312.6" y1="71.7" x2="319.3" y2="71.7" stroke="#000" stroke-width="1.3"/>
<line x1="281.8" y1="90.6" x2="310.7" y2="90.6" stroke="#00f" stroke-width="2.4"/>
<text x="312.4" y="94.1" textLength="34.2" lengthAdjust="spacingAndGlyphs">T=0.04</text>
<line x1="312.6" y1="86.6" x2="319.3" y2="86.6" stroke="#000" stroke-width="1.3"/>
<line x1="281.8" y1="105.5" x2="310.7" y2="105.5" stroke="#0ff" stroke-width="2.4"/>
<text x="312.4" y="109.0" textLength="34.2" lengthAdjust="spacingAndGlyphs">T=0.05</text>
<line x1="312.6" y1="101.5" x2="319.3" y2="101.5" stroke="#000" stroke-width="1.3"/>
<line x1="281.8" y1="120.3" x2="310.7" y2="120.3" stroke="#f0f" stroke-width="2.4"/>
<text x="312.4" y="123.8" textLength="34.2" lengthAdjust="spacingAndGlyphs">T=0.06</text>
<line x1="312.6" y1="116.3" x2="319.3" y2="116.3" stroke="#000" stroke-width="1.3"/>
<line x1="281.8" y1="135.2" x2="310.7" y2="135.2" stroke="#808000" stroke-width="2.4"/>
<text x="312.4" y="138.7" textLength="28.5" lengthAdjust="spacingAndGlyphs">T=0.1</text>
<line x1="312.6" y1="131.2" x2="319.3" y2="131.2" stroke="#000" stroke-width="1.3"/>
</g>
<g fill="none" stroke="#000" stroke-width="0.6"><path d="M77.9,28.55H266.4M77.9,196.2H266.4" stroke-width="0.8"/><path d="M77.9,28.55V196.2M266.4,28.55V196.2" stroke="#7a7a7a" stroke-width="1.3"/><path d="M77.90,196.2v-3M77.90,28.55v3M101.46,196.2v-2M101.46,28.55v2M125.02,196.2v-3M125.02,28.55v3M148.59,196.2v-2M148.59,28.55v2M172.15,196.2v-3M172.15,28.55v3M195.71,196.2v-2M195.71,28.55v2M219.28,196.2v-3M219.28,28.55v3M242.84,196.2v-2M242.84,28.55v2M266.40,196.2v-3M266.40,28.55v3M77.9,196.20h3M266.4,196.20h-3M77.9,154.29h2M266.4,154.29h-2M77.9,112.38h3M266.4,112.38h-3M77.9,70.46h2M266.4,70.46h-2M77.9,28.55h3M266.4,28.55h-3"/></g>
<g fill="none" stroke-width="1.1" stroke-linejoin="round">
<path d="M77.7,196.2 L79.1,196.1 L80.4,196.0 L81.8,195.9 L83.1,195.9 L84.5,195.8 L85.9,195.8 L87.3,195.7 L88.8,195.7 L90.2,195.7 L91.6,195.7 L93.1,195.7 L94.6,195.8 L96.0,195.8 L97.5,195.8 L99.0,195.9 L100.5,195.9 L102.0,195.9 L103.5,196.0 L105.0,196.0 L106.5,196.1 L108.0,196.1 L109.5,196.2 L111.0,196.2 L112.5,196.2 L114.1,196.2 L115.6,196.2 L117.1,196.2 L118.6,196.2 L120.1,196.2 L121.7,196.2 L123.2,196.2 L124.7,196.2 L126.2,196.2 L127.7,196.2 L129.2,196.1 L130.7,196.0 L132.2,195.9 L133.7,195.8 L135.2,195.7 L136.6,195.5 L138.1,195.4 L139.5,195.2 L141.0,195.0 L142.4,194.7 L143.9,194.5 L145.3,194.2 L146.7,193.9 L148.1,193.6 L149.5,193.2 L150.8,192.8 L152.2,192.4 L153.5,191.9 L154.8,191.5 L156.2,191.0 L157.5,190.4 L158.7,189.9 L160.0,189.2 L161.2,188.6 L162.5,187.9 L163.7,187.2 L164.9,186.5 L166.1,185.7 L167.2,184.9 L168.4,184.1 L169.5,183.3 L170.6,182.4 L171.7,181.5 L172.8,180.5 L173.8,179.6 L174.9,178.6 L175.9,177.6 L176.9,176.6 L177.9,175.5 L178.9,174.5 L179.8,173.4 L180.8,172.3 L181.7,171.1 L182.6,170.0 L183.5,168.8 L184.4,167.6 L185.2,166.4 L186.1,165.2 L186.9,164.0 L187.7,162.8 L188.5,161.5 L189.2,160.2 L190.0,159.0 L190.7,157.7 L191.5,156.4 L192.2,155.1 L192.8,153.8 L193.5,152.4 L194.1,151.1 L194.8,149.8 L195.4,148.4 L196.0,147.1 L196.6,145.7 L197.1,144.4 L197.7,143.0 L198.2,141.7 L198.8,140.3 L199.3,138.9 L199.8,137.5 L200.3,136.2 L200.7,134.8 L201.2,133.4 L201.7,132.0 L202.1,130.6 L202.5,129.2 L203.0,127.8 L203.4,126.4 L203.8,125.0 L204.2,123.6 L204.6,122.2 L205.0,120.8 L205.4,119.4 L205.8,118.0 L206.2,116.6 L206.6,115.2 L207.0,113.8 L207.3,112.4 L207.7,111.0 L208.1,109.6 L208.5,108.2 L208.8,106.8 L209.2,105.4 L209.6,104.0 L210.0,102.7 L210.4,101.3 L210.8,99.9 L211.1,98.5 L211.5,97.1 L211.9,95.8 L212.3,94.4 L212.7,93.0 L213.1,91.6 L213.5,90.3 L213.9,88.9 L214.3,87.5 L214.7,86.1 L215.1,84.8 L215.5,83.4 L215.9,82.0 L216.2,80.6 L216.6,79.2 L217.0,77.8 L217.4,76.4 L217.8,75.0 L218.2,73.6 L218.6,72.2 L219.0,70.8 L219.4,69.4 L219.8,68.0 L220.2,66.6 L220.6,65.1 L221.0,63.7 L221.3,62.2 L221.7,60.8 L222.1,59.3 L222.5,57.9 L222.9,56.4 L223.2,54.9 L223.6,53.4 L224.0,51.9 L224.4,50.4 L224.8,49.0 L225.2,47.5 L225.6,46.0 L226.1,44.6 L226.6,43.2 L227.1,41.8 L227.7,40.4 L228.3,39.1 L229.0,37.8 L229.8,36.6 L230.6,35.4 L231.4,34.3 L232.4,33.2 L233.4,32.2 L234.4,31.4 L235.5,30.9 L236.6,30.8 L237.6,31.1 L238.6,31.7 L239.6,32.7 L240.4,33.9 L241.1,35.3 L241.6,36.9 L242.1,38.6 L242.6,40.3 L242.9,42.1 L243.2,43.9 L243.5,45.6 L243.8,47.2 L244.0,48.7 L244.3,50.2 L244.5,51.6 L244.8,53.0 L245.0,54.3 L245.2,55.7 L245.5,57.0 L245.8,58.4 L246.1,59.7 L246.3,61.1 L246.6,62.5 L246.9,64.0 L247.1,65.4 L247.3,66.8 L247.6,68.2 L247.8,69.7 L247.9,71.1 L248.1,72.6 L248.3,74.0 L248.4,75.5 L248.5,76.9 L248.7,78.4 L248.8,79.9 L248.9,81.3 L249.0,82.8 L249.1,84.3 L249.2,85.7 L249.3,87.2 L249.4,88.7 L249.4,90.1 L249.5,91.6 L249.6,93.1 L249.7,94.5 L249.8,96.0 L249.9,97.4 L250.0,98.9 L250.2,100.3 L250.3,101.8 L250.4,103.2 L250.5,104.7 L250.6,106.1 L250.8,107.5 L250.9,109.0 L251.0,110.4 L251.2,111.9 L251.3,113.3 L251.4,114.7 L251.6,116.2 L251.7,117.6 L251.9,119.0 L252.0,120.5 L252.1,121.9 L252.3,123.3 L252.4,124.8 L252.5,126.2 L252.6,127.6 L252.8,129.1 L252.9,130.5 L253.0,132.0 L253.1,133.4 L253.2,134.9 L253.3,136.3 L253.4,137.8 L253.5,139.2 L253.6,140.7 L253.7,142.1 L253.8,143.6 L253.8,145.1 L253.9,146.5 L254.0,148.0 L254.0,149.5 L254.1,151.0 L254.1,152.5 L254.2,153.9 L254.3,155.4 L254.3,156.9 L254.4,158.4 L254.5,159.9 L254.6,161.3 L254.7,162.8 L254.8,164.3 L254.9,165.7 L255.1,167.2 L255.3,168.6 L255.5,170.1 L255.7,171.5 L255.9,172.9 L256.2,174.3 L256.5,175.7 L256.8,177.1 L257.1,178.5 L257.5,179.9 L257.9,181.2 L258.4,182.6 L258.9,183.9 L259.4,185.2 L260.0,186.5 L260.6,187.8 L261.3,189.0 L262.0,190.3 L262.8,191.5 L263.6,192.7 L264.4,193.9 L265.3,195.1 L266.3,196.2" stroke="#000"/><path d="M77.7,196.2 L79.0,196.1 L80.3,196.0 L81.5,195.9 L82.8,195.8 L84.1,195.7 L85.4,195.6 L86.8,195.6 L88.1,195.6 L89.4,195.6 L90.7,195.6 L92.1,195.6 L93.4,195.6 L94.8,195.6 L96.1,195.6 L97.5,195.7 L98.9,195.7 L100.2,195.8 L101.6,195.8 L103.0,195.9 L104.3,195.9 L105.7,196.0 L107.1,196.0 L108.5,196.1 L109.9,196.2 L111.2,196.2 L112.6,196.2 L114.0,196.2 L115.4,196.2 L116.8,196.2 L118.2,196.2 L119.5,196.2 L120.9,196.2 L122.3,196.2 L123.7,196.2 L125.1,196.2 L126.4,196.2 L127.8,196.2 L129.2,196.2 L130.5,196.2 L131.9,196.2 L133.2,196.1 L134.6,196.0 L135.9,195.9 L137.3,195.7 L138.6,195.6 L139.9,195.4 L141.2,195.2 L142.5,194.9 L143.9,194.7 L145.1,194.4 L146.4,194.1 L147.7,193.8 L149.0,193.4 L150.3,193.0 L151.5,192.6 L152.8,192.2 L154.0,191.7 L155.2,191.2 L156.4,190.7 L157.6,190.1 L158.8,189.6 L160.0,189.0 L161.2,188.4 L162.4,187.7 L163.5,187.1 L164.6,186.4 L165.8,185.7 L166.9,185.0 L168.0,184.2 L169.1,183.5 L170.2,182.7 L171.2,181.9 L172.3,181.1 L173.3,180.2 L174.3,179.4 L175.3,178.5 L176.3,177.6 L177.3,176.7 L178.3,175.8 L179.2,174.8 L180.1,173.9 L181.0,172.9 L181.9,171.9 L182.8,170.9 L183.7,169.9 L184.5,168.9 L185.4,167.8 L186.2,166.8 L187.0,165.7 L187.8,164.7 L188.5,163.6 L189.3,162.5 L190.0,161.4 L190.8,160.3 L191.5,159.1 L192.2,158.0 L192.9,156.9 L193.5,155.7 L194.2,154.5 L194.8,153.4 L195.5,152.2 L196.1,151.0 L196.7,149.8 L197.3,148.6 L197.9,147.4 L198.4,146.2 L199.0,145.0 L199.6,143.7 L200.1,142.5 L200.6,141.3 L201.2,140.0 L201.7,138.8 L202.2,137.5 L202.7,136.2 L203.2,135.0 L203.7,133.7 L204.1,132.4 L204.6,131.2 L205.1,129.9 L205.5,128.6 L206.0,127.3 L206.4,126.0 L206.9,124.7 L207.3,123.4 L207.8,122.1 L208.2,120.8 L208.6,119.6 L209.0,118.3 L209.4,117.0 L209.9,115.7 L210.3,114.4 L210.7,113.1 L211.1,111.8 L211.5,110.5 L211.9,109.2 L212.3,107.9 L212.7,106.6 L213.1,105.3 L213.5,104.0 L213.9,102.8 L214.3,101.5 L214.7,100.2 L215.1,98.9 L215.5,97.7 L215.9,96.4 L216.3,95.1 L216.7,93.9 L217.2,92.6 L217.6,91.4 L218.0,90.1 L218.4,88.9 L218.8,87.7 L219.3,86.5 L219.7,85.2 L220.1,84.0 L220.6,82.8 L221.0,81.6 L221.5,80.4 L221.9,79.2 L222.4,78.0 L222.9,76.7 L223.3,75.5 L223.8,74.3 L224.3,73.1 L224.8,71.8 L225.3,70.6 L225.8,69.3 L226.3,68.0 L226.8,66.7 L227.3,65.5 L227.8,64.1 L228.4,62.8 L228.9,61.5 L229.5,60.1 L230.0,58.8 L230.6,57.4 L231.1,56.0 L231.8,54.7 L232.4,53.4 L233.2,52.3 L234.1,51.3 L235.0,50.5 L236.1,50.0 L237.3,49.6 L238.5,49.4 L239.7,49.5 L240.9,49.7 L242.0,50.2 L243.1,50.9 L244.1,51.8 L244.9,52.9 L245.6,54.2 L246.2,55.6 L246.8,57.0 L247.3,58.4 L247.7,59.9 L248.1,61.2 L248.5,62.6 L248.8,63.9 L249.1,65.2 L249.4,66.4 L249.7,67.7 L250.0,69.0 L250.3,70.3 L250.6,71.6 L250.9,72.9 L251.1,74.2 L251.4,75.5 L251.6,76.8 L251.9,78.1 L252.1,79.4 L252.3,80.7 L252.6,82.1 L252.8,83.4 L253.0,84.7 L253.2,86.0 L253.4,87.4 L253.6,88.7 L253.8,90.0 L254.0,91.3 L254.2,92.7 L254.4,94.0 L254.6,95.3 L254.7,96.7 L254.9,98.0 L255.1,99.4 L255.3,100.7 L255.5,102.0 L255.6,103.4 L255.8,104.7 L256.0,106.0 L256.2,107.4 L256.3,108.7 L256.5,110.0 L256.7,111.4 L256.9,112.7 L257.1,114.0 L257.2,115.4 L257.4,116.7 L257.6,118.0 L257.8,119.3 L258.0,120.6 L258.1,122.0 L258.3,123.3 L258.5,124.6 L258.7,125.9 L258.9,127.2 L259.0,128.6 L259.2,129.9 L259.4,131.2 L259.6,132.5 L259.7,133.8 L259.9,135.1 L260.1,136.5 L260.2,137.8 L260.4,139.1 L260.6,140.4 L260.7,141.7 L260.9,143.0 L261.0,144.4 L261.2,145.7 L261.3,147.0 L261.4,148.3 L261.6,149.6 L261.7,151.0 L261.9,152.3 L262.0,153.6 L262.1,154.9 L262.3,156.2 L262.4,157.6 L262.5,158.9 L262.6,160.2 L262.8,161.5 L262.9,162.9 L263.0,164.2 L263.1,165.5 L263.2,166.8 L263.4,168.2 L263.5,169.5 L263.6,170.8 L263.7,172.1 L263.9,173.5 L264.0,174.8 L264.1,176.1 L264.2,177.5 L264.4,178.8 L264.5,180.1 L264.6,181.5 L264.8,182.8 L264.9,184.1 L265.1,185.5 L265.2,186.8 L265.3,188.1 L265.5,189.5 L265.6,190.8 L265.8,192.2 L266.0,193.5 L266.1,194.9 L266.3,196.2" stroke="#f00"/></g>
<g font-size="9px" fill="#000" style="stroke:none">
<text x="77.9" y="206.9" text-anchor="middle">0.6</text>
<text x="125.0" y="206.9" text-anchor="middle">0.7</text>
<text x="172.2" y="206.9" text-anchor="middle">0.8</text>
<text x="219.3" y="206.9" text-anchor="middle">0.9</text>
<text x="266.4" y="206.9" text-anchor="middle">1.0</text>
<text x="75.0" y="199.3" text-anchor="end">0</text>
<text x="75.0" y="115.5" text-anchor="end">5</text>
<text x="75.0" y="31.1" text-anchor="end">10</text>
<text x="165.6" y="223.5" font-size="10.5px"><tspan font-style="italic">i</tspan><tspan font-size="6.3px" dy="3.8" dx="0.2">SW</tspan></text>
<text transform="translate(65.2,114.9) rotate(-90)" font-size="9.8px">P(<tspan font-style="italic">i</tspan><tspan font-size="5.2px" dy="3.6" dx="0.2">SW</tspan><tspan dy="-3.6">)</tspan></text>
<text x="202" y="44.6" font-size="10.4px"><tspan font-style="italic">l</tspan><tspan font-size="6.5px" dy="2.5">K</tspan><tspan dy="-2.5">=5</tspan></text>
<text x="226.3" y="88.1" font-size="10.4px"><tspan font-style="italic">l</tspan><tspan font-size="6.5px" dy="2.5">K</tspan><tspan dy="-2.5">=0</tspan></text>
</g>
<g stroke="#000" stroke-width="0.5" fill="#000"><line x1="222.5" y1="56.8" x2="212.5" y2="47.8"/><path d="M211.6,47 L215.2,48.7 L213.6,50.4Z" stroke="none"/><line x1="232" y1="60" x2="234.8" y2="77.5"/><path d="M235,78.6 L233.2,74.8 L235.6,74.4Z" stroke="none"/></g>
</svg>
</body></html>
